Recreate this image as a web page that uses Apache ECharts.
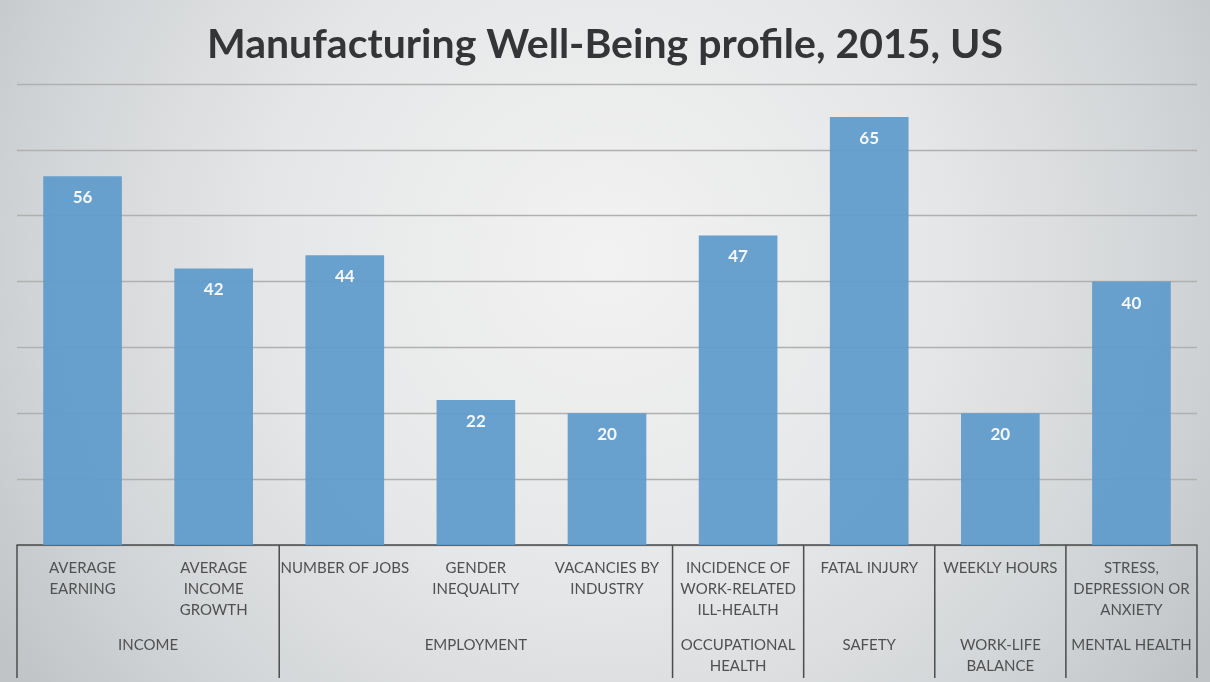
<!DOCTYPE html>
<html>
<head>
<meta charset="utf-8">
<script src="https://cdn.jsdelivr.net/npm/echarts@6/dist/echarts.min.js"></script>
<style>
  html, body { margin: 0; padding: 0; width: 1210px; height: 682px; overflow: hidden; }
  #chart { width: 1210px; height: 682px; }
</style>
</head>
<body>
<div id="chart"></div>
<script>
// Indicators (first axis level) and their scores
const indicators = [
  'AVERAGE\nEARNING',
  'AVERAGE\nINCOME\nGROWTH',
  'NUMBER OF JOBS',
  'GENDER\nINEQUALITY',
  'VACANCIES BY\nINDUSTRY',
  'INCIDENCE OF\nWORK-RELATED\nILL-HEALTH',
  'FATAL INJURY',
  'WEEKLY HOURS',
  'STRESS,\nDEPRESSION OR\nANXIETY'
];
const scores = [56, 42, 44, 22, 20, 47, 65, 20, 40];

// Dimensions (second axis level) and how many indicators each covers
const dimensions = ['INCOME', 'EMPLOYMENT', 'OCCUPATIONAL\nHEALTH', 'SAFETY', 'WORK-LIFE\nBALANCE', 'MENTAL HEALTH'];
const dimensionSpans = [2, 3, 1, 1, 1, 1];

const FONT = 'Lato, "Open Sans", sans-serif';
const TEXT = '#505050';
const AXIS = '#4c4c4c';

const chart = echarts.init(document.getElementById('chart'));

chart.setOption({
  backgroundColor: {
    type: 'radial', x: 605, y: 260, r: 720, global: true,
    colorStops: [
      { offset: 0, color: '#f2f2f2' },
      { offset: 0.45, color: '#e6e7e8' },
      { offset: 0.8, color: '#d1d4d6' },
      { offset: 1, color: '#c0c4c7' }
    ]
  },
  animation: false,
  title: {
    text: 'Manufacturing Well-Being profile, 2015, US',
    left: 'center',
    top: 19,
    textStyle: { fontFamily: FONT, fontSize: 41, fontWeight: 'bold', color: '#333536' }
  },
  grid: { left: 17, right: 13, top: 84, bottom: 137 },
  xAxis: {
    type: 'category',
    data: indicators,
    axisLine: { show: true, lineStyle: { color: AXIS, width: 1.5 } },
    axisTick: { show: false },
    axisLabel: {
      interval: 0,
      margin: 13,
      verticalAlign: 'top',
      fontFamily: FONT,
      fontSize: 15,
      lineHeight: 21,
      color: TEXT,
      align: 'center'
    }
  },
  yAxis: {
    type: 'value',
    min: 0,
    max: 70,
    interval: 10,
    axisLine: { show: false },
    axisTick: { show: false },
    axisLabel: { show: false },
    splitLine: { lineStyle: { color: '#b0b0b0', width: 1.3 } }
  },
  series: [{
    type: 'bar',
    data: scores,
    barCategoryGap: '40%',
    itemStyle: { color: '#5f9bcb', opacity: 0.93 },
    label: {
      show: true,
      position: 'insideTop',
      distance: 13,
      fontFamily: FONT,
      fontSize: 17,
      fontWeight: 'bold',
      color: '#ffffff'
    },
    z: 1
  }]
});

// Second axis level: dimension labels and separators between dimensions
const c0 = chart.convertToPixel({ xAxisIndex: 0 }, 0);
const c1 = chart.convertToPixel({ xAxisIndex: 0 }, 1);
const band = c1 - c0;
const axisY = chart.convertToPixel({ yAxisIndex: 0 }, 0);
const bottomY = axisY + 133;

const graphics = [];
let start = 0;
const edgeX = i => chart.convertToPixel({ xAxisIndex: 0 }, i) - band / 2;
graphics.push({
  type: 'line', shape: { x1: edgeX(0), y1: axisY, x2: edgeX(0), y2: bottomY },
  style: { stroke: AXIS, lineWidth: 1.5 }
});
dimensions.forEach((name, g) => {
  const span = dimensionSpans[g];
  const left = edgeX(start);
  const right = left + band * span;
  graphics.push({
    type: 'line', shape: { x1: right, y1: axisY, x2: right, y2: bottomY },
    style: { stroke: AXIS, lineWidth: 1.5 }
  });
  graphics.push({
    type: 'text',
    x: (left + right) / 2,
    y: axisY + 90,
    style: {
      text: name,
      fill: TEXT,
      font: '15px ' + FONT,
      lineHeight: 21,
      align: 'center',
      verticalAlign: 'top'
    }
  });
  start += span;
});

chart.setOption({ graphic: graphics });
</script>
</body>
</html>
